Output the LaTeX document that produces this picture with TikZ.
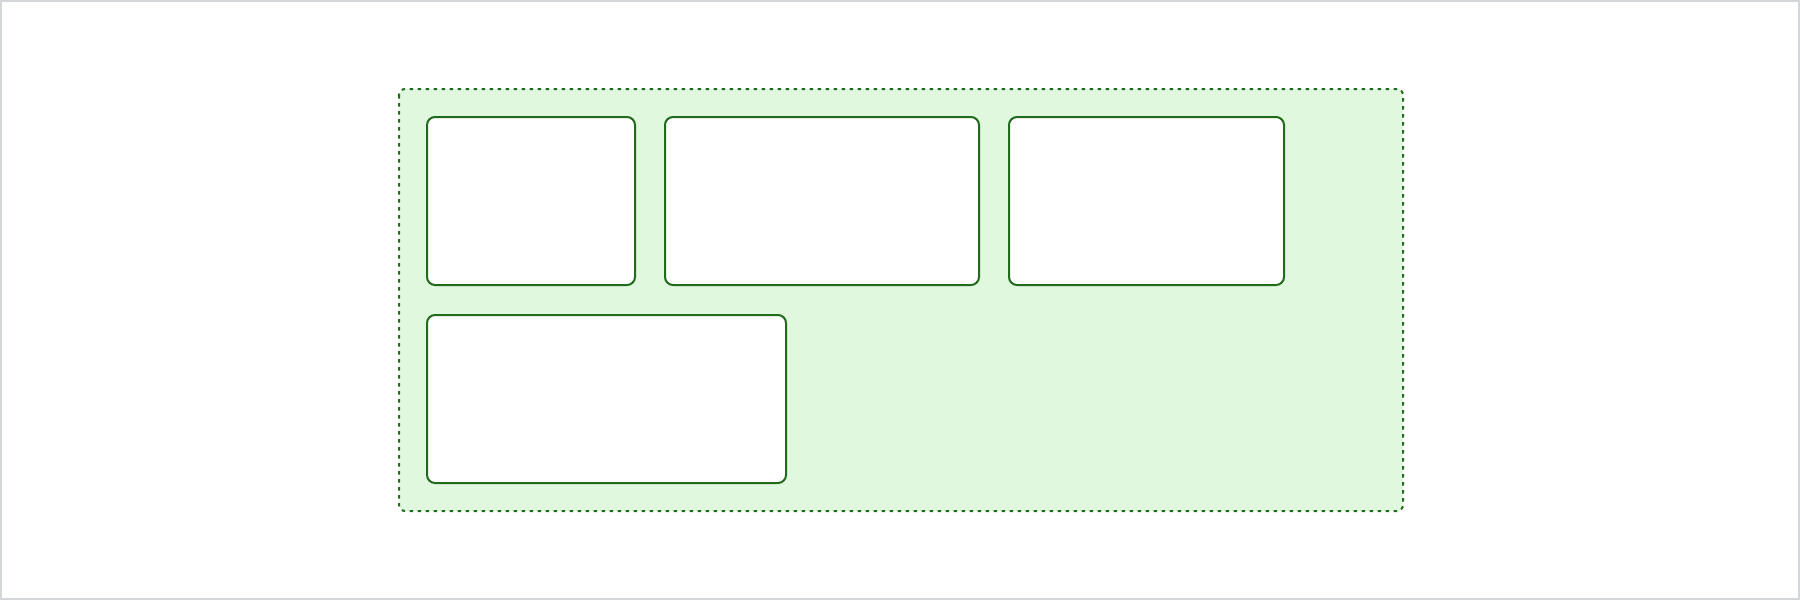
\documentclass[tikz,border=0pt]{standalone}
\definecolor{frame}{HTML}{D3D6D9}
\definecolor{grp}{HTML}{DFF8DE}
\definecolor{dk}{HTML}{236B1C}
\tikzset{
  panel/.style={draw=dk, line width=2pt, fill=white, rounded corners=8pt},
  group/.style={draw=dk, line width=2pt, fill=grp, rounded corners=6pt, dash pattern=on 3.5pt off 4.5pt},
}
\begin{document}
\begin{tikzpicture}[x=1pt,y=-1pt]
\useasboundingbox (0,0) rectangle (1800,600);
\draw[frame, line width=2pt] (1,1) rectangle (1799,599);
\draw[group] (399,89) rectangle (1403,511);
\draw[panel] (427,117) rectangle (635,285);
\draw[panel] (665,117) rectangle (979,285);
\draw[panel] (1009,117) rectangle (1284,285);
\draw[panel] (427,315) rectangle (786,483);
\end{tikzpicture}
\end{document}
